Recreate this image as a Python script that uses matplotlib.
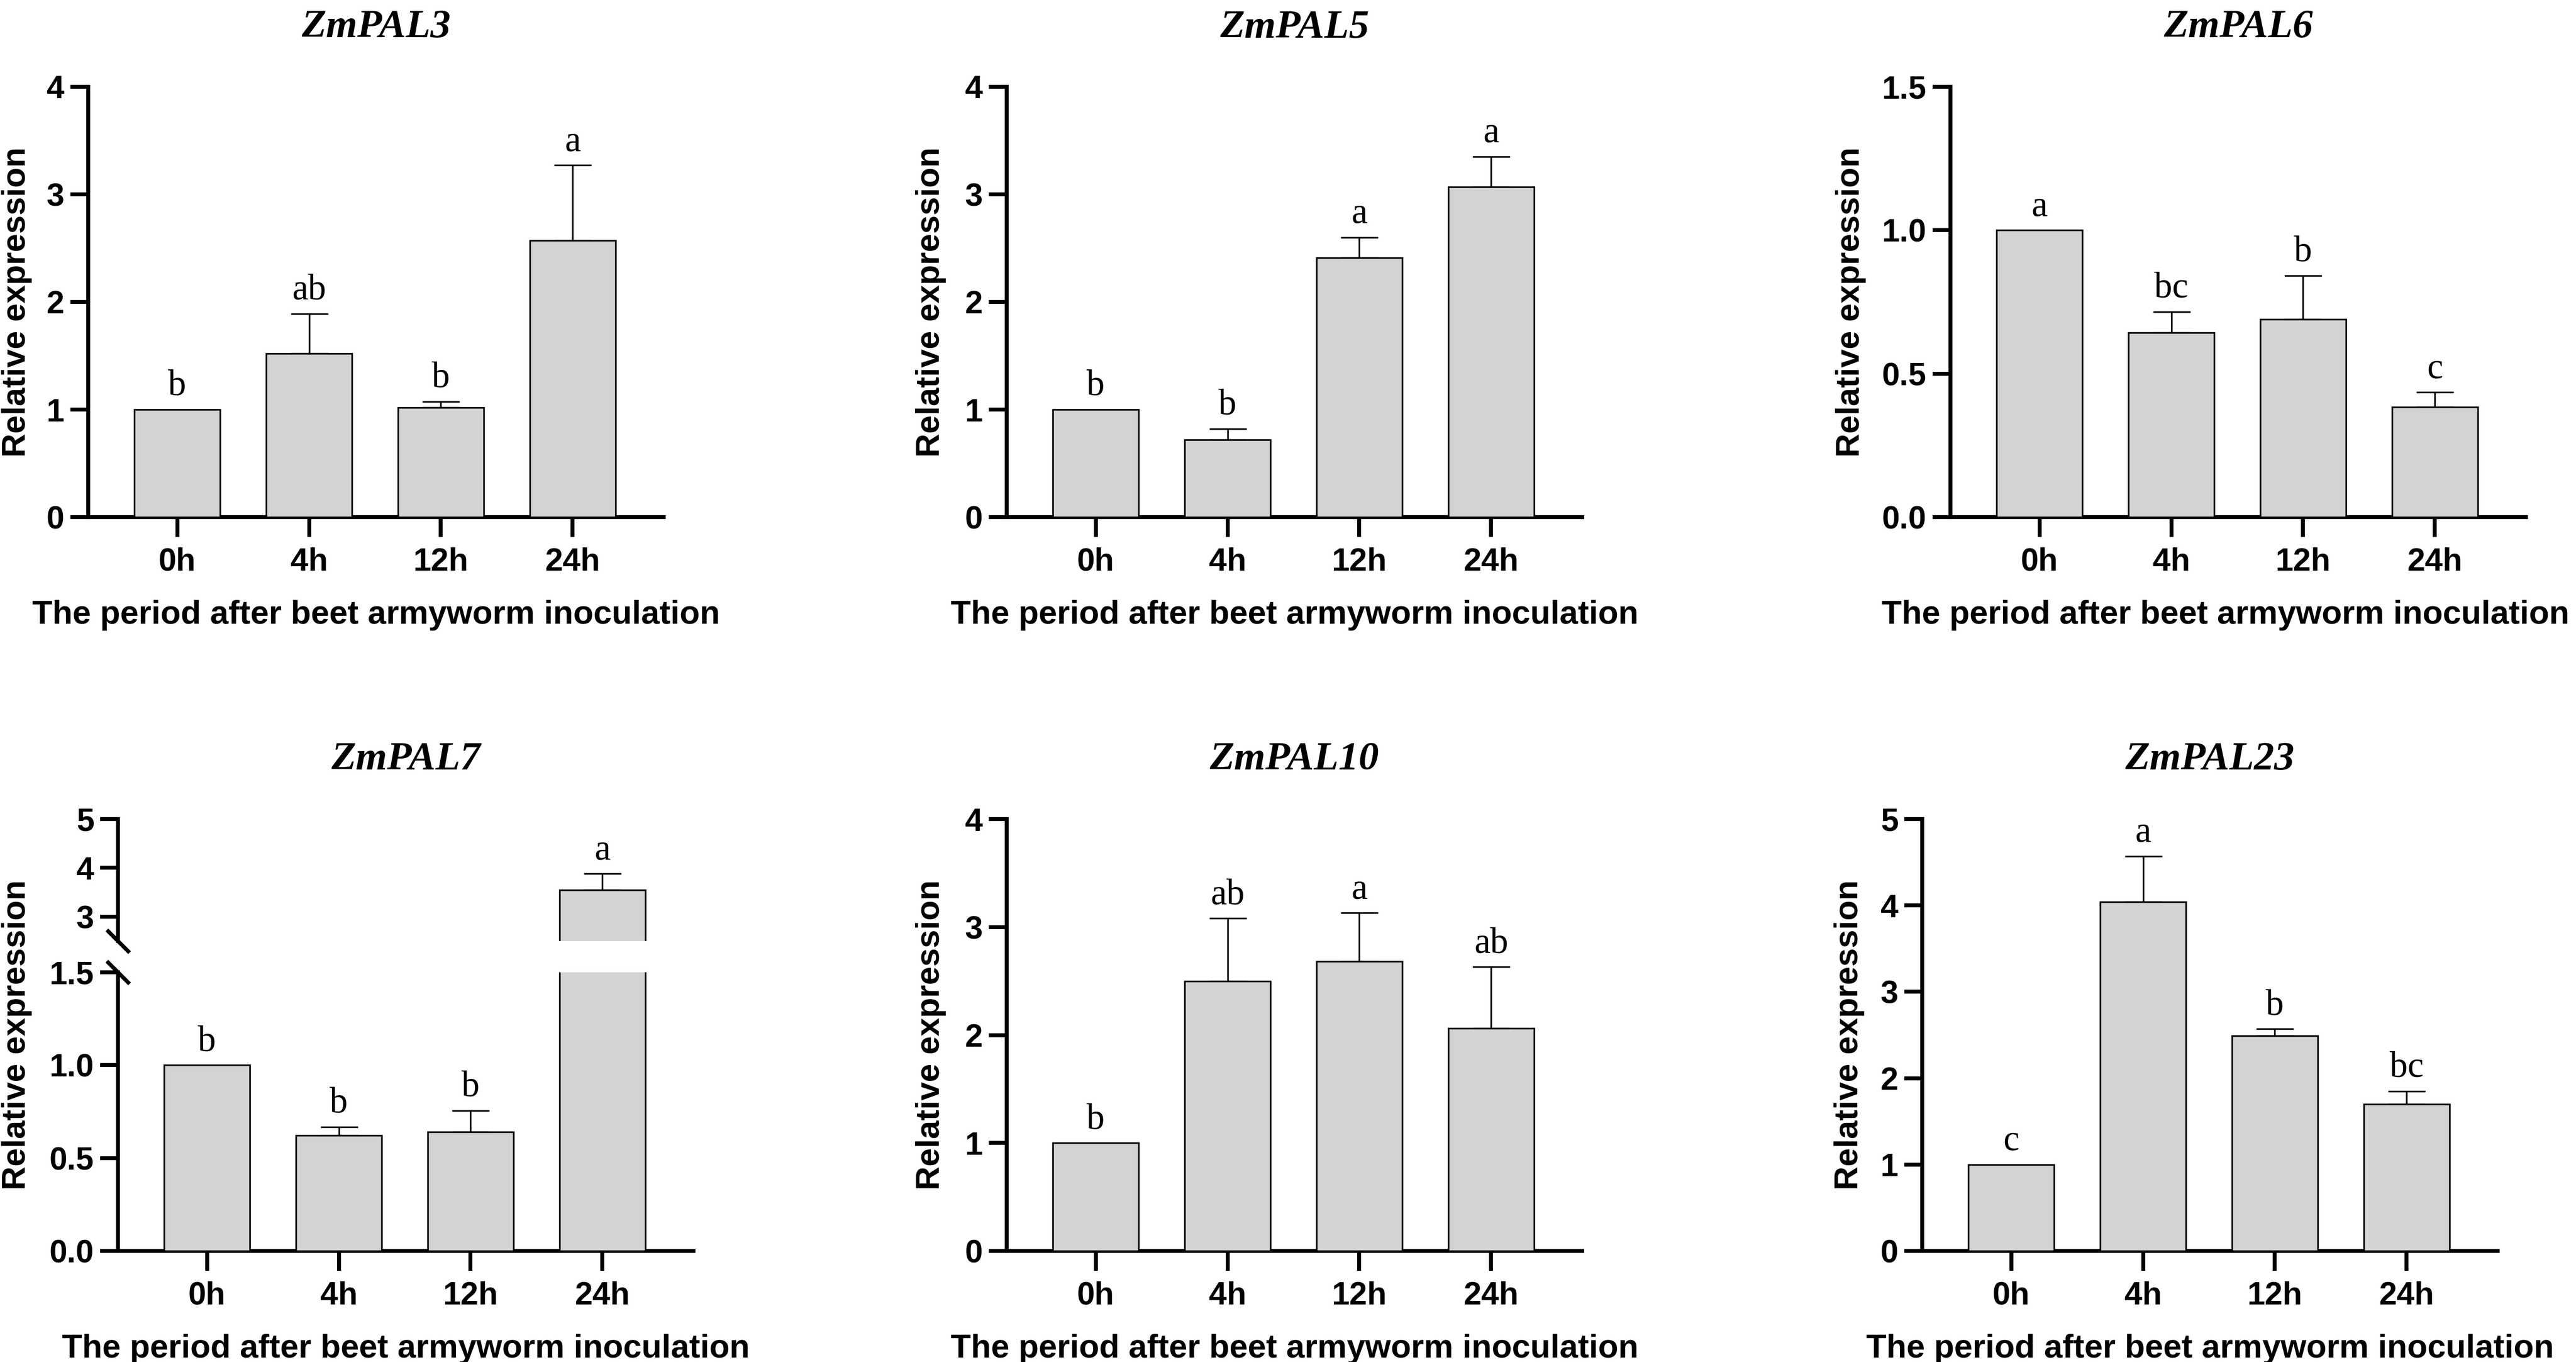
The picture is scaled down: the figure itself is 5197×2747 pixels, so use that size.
import matplotlib
matplotlib.use("Agg")
import matplotlib.pyplot as plt

# ---------------- data ----------------
times = ["0h", "4h", "12h", "24h"]
genes = ["ZmPAL3", "ZmPAL5", "ZmPAL6", "ZmPAL7", "ZmPAL10", "ZmPAL23"]

pal3_mean = [1.0, 1.52, 1.02, 2.57]
pal3_err = [0.0, 0.37, 0.055, 0.70]
pal3_letters = ["b", "ab", "b", "a"]

pal5_mean = [1.0, 0.72, 2.41, 3.07]
pal5_err = [0.0, 0.10, 0.19, 0.28]
pal5_letters = ["b", "b", "a", "a"]

pal6_mean = [1.0, 0.643, 0.69, 0.383]
pal6_err = [0.0, 0.073, 0.152, 0.052]
pal6_letters = ["a", "bc", "b", "c"]

pal7_mean = [1.0, 0.623, 0.64, 3.55]
pal7_err = [0.0, 0.044, 0.116, 0.33]
pal7_letters = ["b", "b", "b", "a"]

pal10_mean = [1.0, 2.50, 2.68, 2.06]
pal10_err = [0.0, 0.58, 0.45, 0.57]
pal10_letters = ["b", "ab", "a", "ab"]

pal23_mean = [1.0, 4.04, 2.49, 1.70]
pal23_err = [0.0, 0.53, 0.08, 0.15]
pal23_letters = ["c", "a", "b", "bc"]

ticks_0_4 = [0, 1, 2, 3, 4]
ticks_0_5 = [0, 1, 2, 3, 4, 5]
ticks_0_15 = [0.0, 0.5, 1.0, 1.5]
ticks_upper7 = [3, 4, 5]

# ---------------- style ----------------
SANS = "Liberation Sans"
SERIF = "Liberation Serif"
plt.rcParams["font.family"] = [SANS, "DejaVu Sans"]
plt.rcParams["font.weight"] = "bold"
plt.rcParams["axes.labelweight"] = "bold"

W, H, DPI = 5197, 2747, 300
fig = plt.figure(figsize=(W / DPI, H / DPI), dpi=DPI)
fig.patch.set_facecolor("white")

AXW = 1161
BAR_W = 0.647
XLIM = (-0.675, 3.69)
BAR_COLOR = "#D3D3D3"
SPINE_LW = 1.9
THIN_LW = 0.8
TICK_FS = 15.5
LABEL_FS = 16
TITLE_FS = 19.5
LETTER_FS = 17.5


def px_axes(left, top, bottom):
    return fig.add_axes([left / W, 1 - bottom / H, AXW / W, (bottom - top) / H])


def style(ax, fmt=None):
    for s in ["top", "right"]:
        ax.spines[s].set_visible(False)
    for s in ["left", "bottom"]:
        ax.spines[s].set_linewidth(SPINE_LW)
    ax.tick_params(axis="y", direction="out", length=8.6, width=SPINE_LW,
                   pad=3, labelsize=TICK_FS)
    ax.tick_params(axis="x", direction="out", length=9.6, width=SPINE_LW,
                   pad=5, labelsize=TICK_FS)
    ax.set_xlim(*XLIM)
    if fmt:
        ax.yaxis.set_major_formatter(plt.FormatStrFormatter(fmt))


def draw_bars(ax, means, errs, letters):
    x = list(range(len(means)))
    ax.bar(x, means, width=BAR_W, color=BAR_COLOR, edgecolor="black",
           linewidth=THIN_LW, zorder=3)
    for xi, m, e, lt in zip(x, means, errs, letters):
        if e > 0:
            ax.errorbar([xi], [m], yerr=[[0], [e]], fmt="none", ecolor="black",
                        elinewidth=THIN_LW, capsize=9, capthick=THIN_LW, zorder=2)
        ax.annotate(lt, (xi, m + e), xytext=(0, 7), textcoords="offset points",
                    ha="center", va="baseline", fontsize=LETTER_FS,
                    family=SERIF, fontweight="normal", annotation_clip=False)


def finish_x(ax, label_x=0.5):
    ax.set_xticks(range(len(times)))
    ax.set_xticklabels(times)
    ax.set_xlabel("The period after beet armyworm inoculation",
                  fontsize=LABEL_FS, fontweight="bold", labelpad=11)
    ax.xaxis.label.set_x(label_x)


def ylabel(xc, top, bottom):
    fig.text(xc / W, 1 - (top + bottom) / 2 / H, "Relative expression",
             rotation=90, ha="center", va="center", fontsize=LABEL_FS,
             fontweight="bold")


def title(ax, text):
    ax.set_title(text, fontsize=TITLE_FS, family=SERIF, fontweight="bold",
                 style="italic", pad=24)


TOP_T, TOP_B = 175, 1043
BOT_T, BOT_B = 1652, 2523

panels = [
    # (left, top, bottom, means, errs, letters, yticks, ylim, fmt, gene, ylabel_x, xlabel_x)
    (178, TOP_T, TOP_B, pal3_mean, pal3_err, pal3_letters, ticks_0_4, (0, 4), None, genes[0], 34, 0.5),
    (2031, TOP_T, TOP_B, pal5_mean, pal5_err, pal5_letters, ticks_0_4, (0, 4), None, genes[1], 1878, 0.5),
    (3935, TOP_T, TOP_B, pal6_mean, pal6_err, pal6_letters, ticks_0_15, (0, 1.5), "%.1f", genes[2], 3734, 0.478),
    (2031, BOT_T, BOT_B, pal10_mean, pal10_err, pal10_letters, ticks_0_4, (0, 4), None, genes[4], 1878, 0.5),
    (3878, BOT_T, BOT_B, pal23_mean, pal23_err, pal23_letters, ticks_0_5, (0, 5), None, genes[5], 3731, 0.5),
]

for left, top, bottom, means, errs, letters, yt, yl, fmt, gene, ylx, xlx in panels:
    ax = px_axes(left, top, bottom)
    style(ax, fmt)
    draw_bars(ax, means, errs, letters)
    ax.set_ylim(*yl)
    ax.set_yticks(yt)
    finish_x(ax, xlx)
    title(ax, gene)
    ylabel(ylx, top, bottom)

# ---------------- ZmPAL7 with broken axis ----------------
P4_LEFT = 238
BREAK_LOW_TOP = 1961
BREAK_UP_BOT = 1898

ax_lo = px_axes(P4_LEFT, BREAK_LOW_TOP, BOT_B)
style(ax_lo, "%.1f")
draw_bars(ax_lo, pal7_mean, pal7_err, [l if m + e <= 1.5 else "" for l, m, e in
                                       zip(pal7_letters, pal7_mean, pal7_err)])
ax_lo.set_ylim(0, 1.5)
ax_lo.set_yticks(ticks_0_15)
finish_x(ax_lo)

ax_up = px_axes(P4_LEFT, BOT_T, BREAK_UP_BOT)
style(ax_up)
ax_up.spines["bottom"].set_visible(False)
ax_up.tick_params(axis="x", bottom=False, labelbottom=False)
draw_bars(ax_up, pal7_mean, pal7_err, [l if m + e > 1.5 else "" for l, m, e in
                                       zip(pal7_letters, pal7_mean, pal7_err)])
ax_up.set_ylim(2.5, 5)
ax_up.set_yticks(ticks_upper7)
title(ax_up, genes[3])

slash = dict(marker=[(-1, 1), (1, -1)], markersize=11, linestyle="none",
             color="black", mec="black", mew=SPINE_LW, clip_on=False, zorder=10)
ax_up.plot([0], [0], transform=ax_up.transAxes, **slash)
ax_lo.plot([0], [1], transform=ax_lo.transAxes, **slash)
ylabel(34, BOT_T, BOT_B)

fig.savefig("out.png", dpi=DPI, facecolor="white")
